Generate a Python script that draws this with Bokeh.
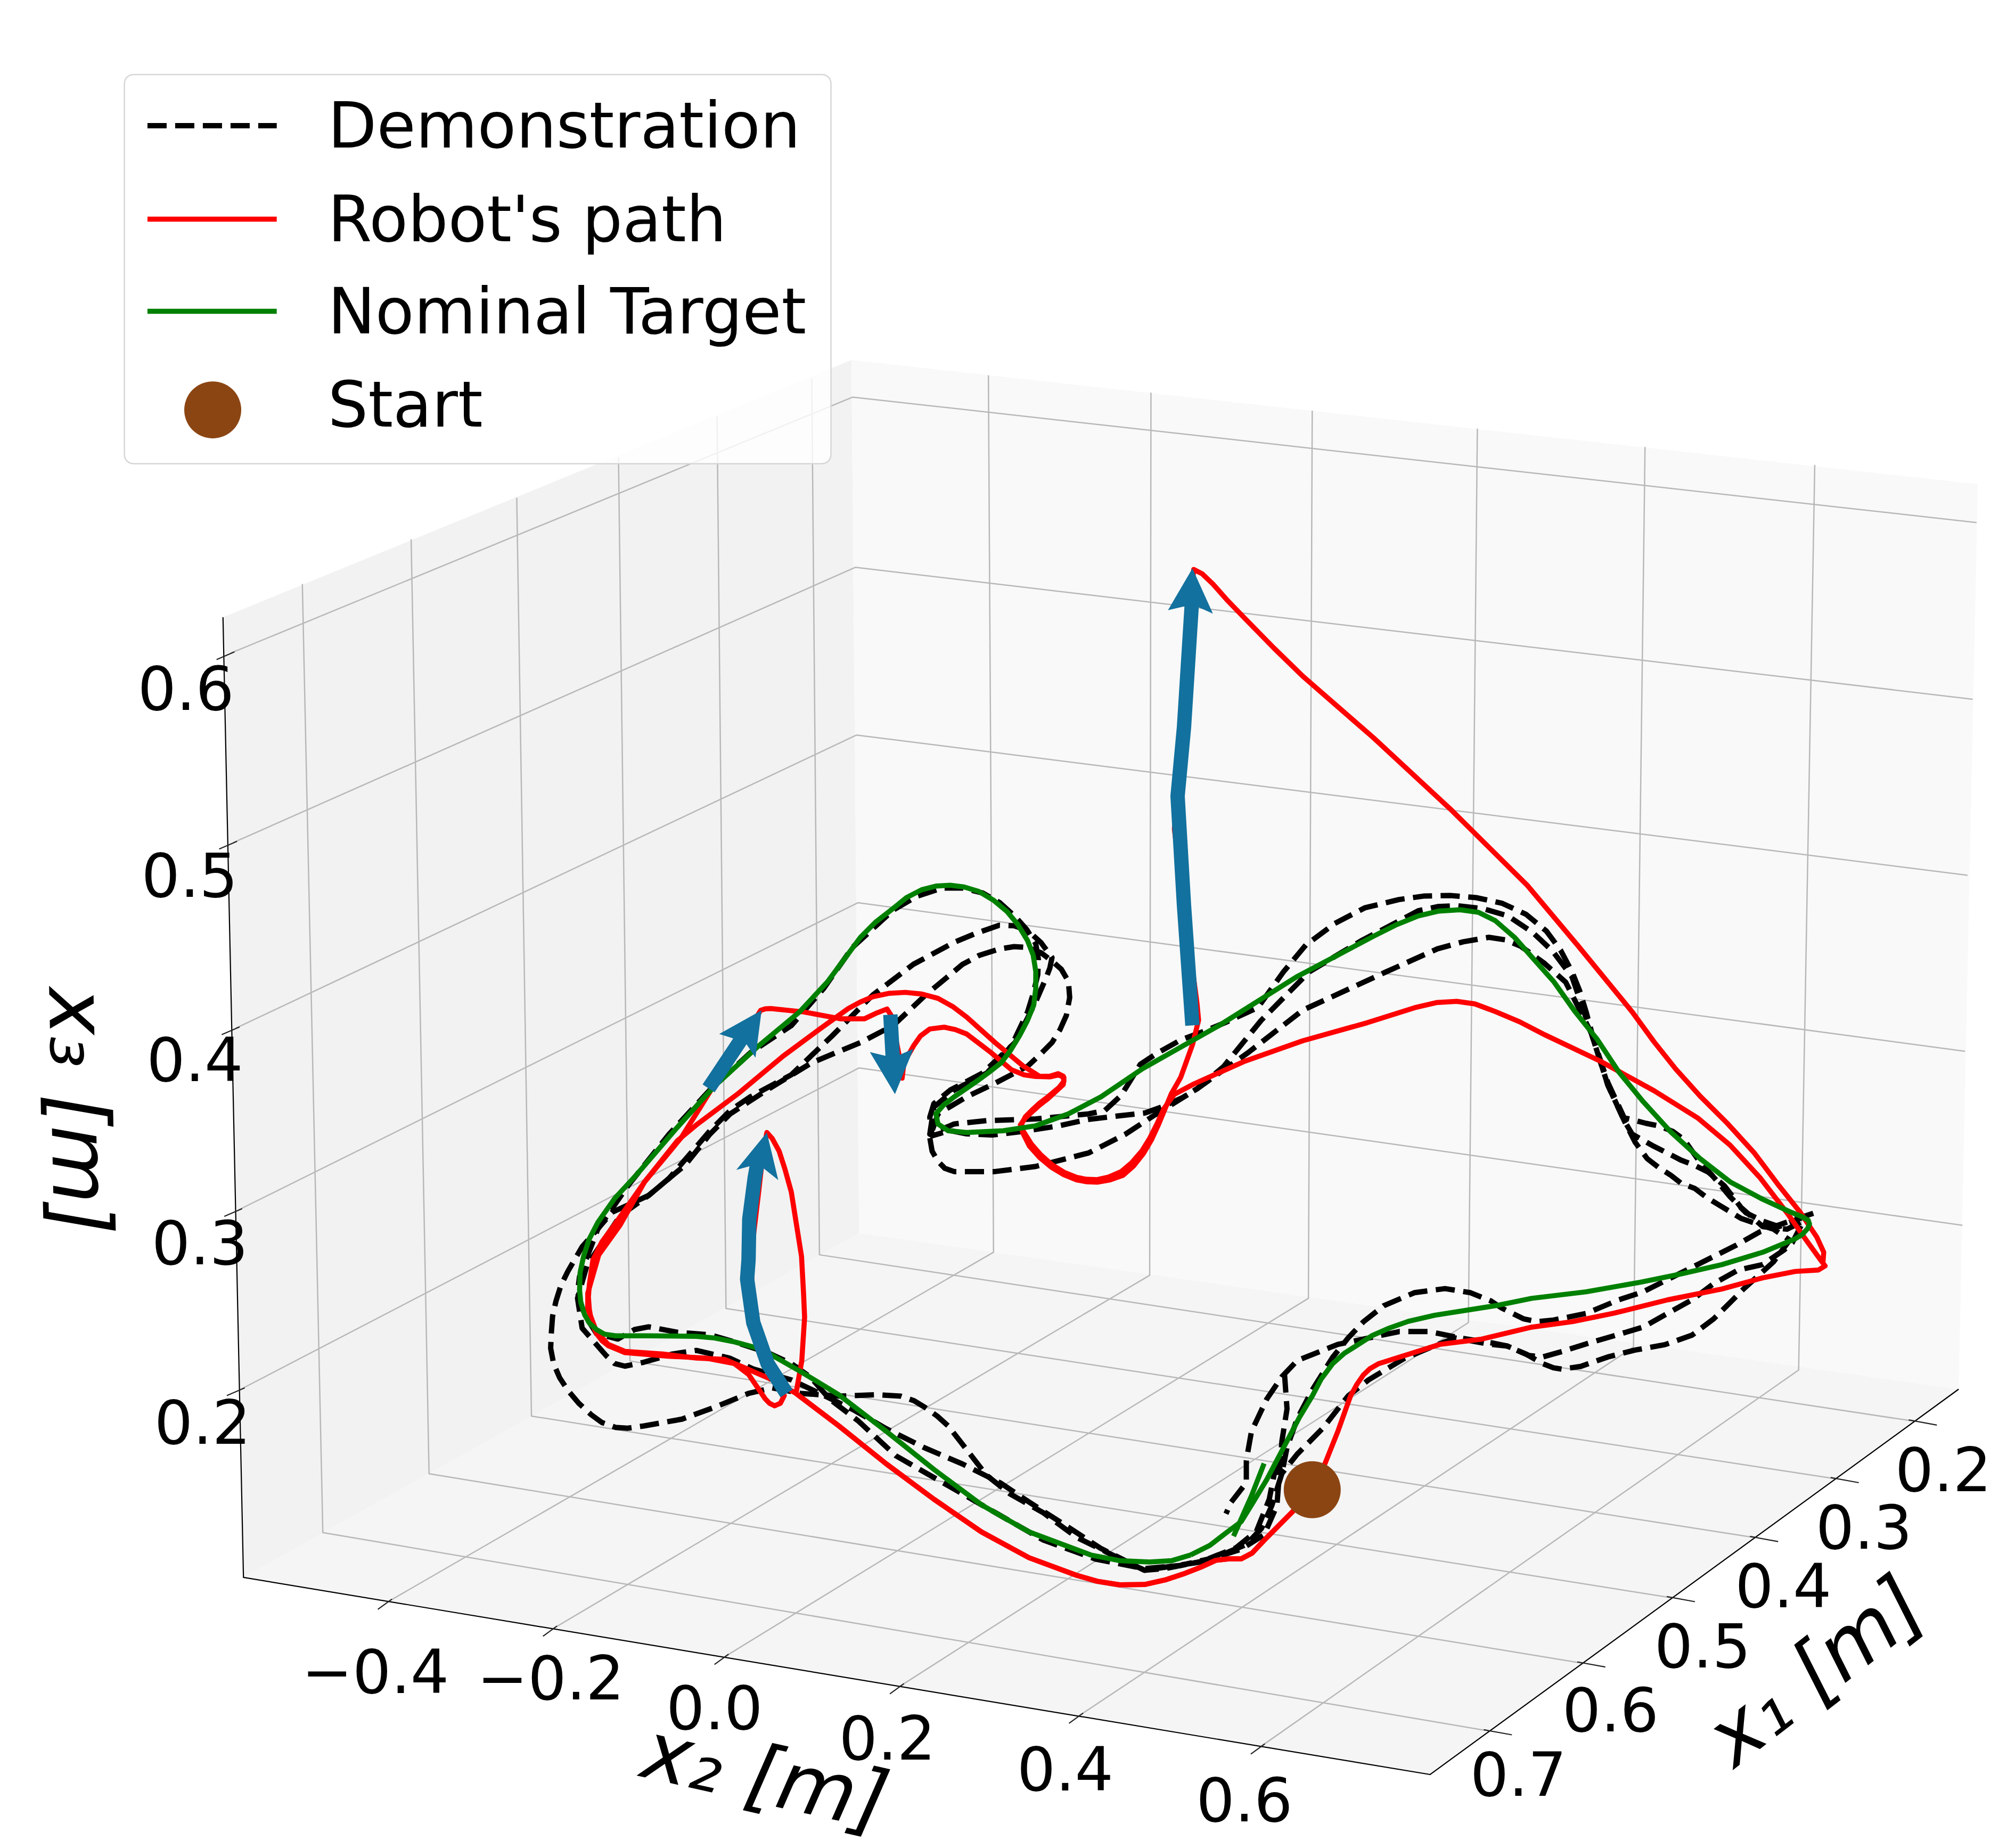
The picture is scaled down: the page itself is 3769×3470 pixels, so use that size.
#!/usr/bin/env python3
import math

from bokeh.core.properties import value
from bokeh.embed import file_html
from bokeh.models import Range1d
from bokeh.plotting import figure
from bokeh.resources import INLINE

SCALE = 3769 / 1568

# box corners of the 3d view
left_bottom = (190, 1232)
front_bottom = (1117, 1386)
right_bottom = (1530, 1085)
back_bottom = (671, 963)
left_top = (174, 482)
back_top = (665, 281)
right_top = (1545, 378)

x1_ticks = ["0.2", "0.3", "0.4", "0.5", "0.6", "0.7"]
x1_edge = [(1495, 1110), (1434, 1155), (1371, 1201), (1306, 1248), (1236, 1299), (1163, 1352)]
x1_back = [(640, 980), (567, 1022), (492, 1063), (415, 1106), (335, 1151), (252, 1197)]
x1_top = [(634, 295.6), (560, 325), (483, 357), (403.5, 388.6), (321, 421), (236, 456)]
x1_label_pos = [(1518, 1147), (1456, 1192), (1393, 1238), (1330, 1285), (1258, 1335), (1186, 1385)]

x2_ticks = ["\u22120.4", "\u22120.2", "0.0", "0.2", "0.4", "0.6"]
x2_edge = [(303, 1251), (432, 1272), (566, 1294), (703, 1317), (843, 1340), (985, 1364)]
x2_back = [(776, 978), (898, 996), (1022, 1014), (1147, 1033), (1276, 1052), (1405, 1070)]
x2_top = [(772, 293), (899, 306.5), (1025, 320.5), (1154, 334.6), (1285, 349), (1417.6, 363)]
x2_label_pos = [(293, 1305), (430, 1310), (558, 1333), (693, 1357), (832, 1381), (972, 1405)]

x3_ticks = ["0.2", "0.3", "0.4", "0.5", "0.6"]
x3_left = [(188, 1085), (186, 945), (184, 803), (182, 658), (180, 510)]
x3_back = [(671, 834), (670, 705), (669, 574), (668, 443), (666, 310)]
x3_right = [(1533, 957), (1535, 821), (1537, 683.5), (1541, 546), (1544, 408)]
x3_label_pos = [(158, 1110), (156, 970), (152, 827), (148, 683), (145, 537)]

nominal_stub = [(987.4, 1143), (977.5, 1168.4), (963.5, 1199.8)]
nominal_target = [
    (930, 1214.5), (915, 1219), (897.9, 1220),
    (875, 1219), (852, 1214.5), (803.8, 1196.5), (766.6, 1175.3), (729.5, 1147.7), (692.3, 1118), (655, 1089.3),
    (625.5, 1071.3), (603.2, 1058.6), (590, 1052.5), (573.5, 1048), (558, 1045), (543.8, 1043.7), (506.6, 1043.3),
    (480.6, 1043.3), (472, 1042), (465.8, 1038.4), (460, 1033), (456.5, 1026.7), (453.5, 1017), (452.6, 1007.7),
    (453, 994), (455.7, 981.3), (460, 968), (466.8, 954.8), (480, 936), (497, 917.6),
    (528.9, 880.5), (557.5, 848.7), (592.5, 816.8), (624.4, 790.3), (646.6, 766.4), (672.1, 731.9),
    (684, 720), (697.6, 709.4), (708, 701), (719.9, 694.8), (731, 692), (742.2, 691.3), (753, 692.7),
    (764.4, 696.1), (776, 703), (786.7, 712), (795, 722), (802.6, 734.6), (807, 746),
    (809, 758.5), (809, 772), (807.4, 785), (802.5, 797), (796.3, 808.9), (789.5, 820), (782, 830),
    (773, 837), (764.4, 843.4), (745.3, 856.6), (737, 863), (731, 869.9), (732.6, 877.8), (740.6, 883.1),
    (754.9, 884.5), (783.5, 883.1), (809, 879.2), (834.5, 869.9),
    (860, 856.6), (892.3, 834.7), (952.4, 800.8), (1012.6, 763), (1072.7, 731.2), (1090, 722.5), (1107.8, 715.3),
    (1124, 711.5), (1140.4, 710.5), (1155, 712.5), (1168, 719), (1183, 732), (1198, 749), (1214, 767),
    (1230.5, 790.3), (1247.5, 811.5), (1264.4, 837),
    (1283.5, 860.3), (1304.8, 883.7), (1328, 904.9), (1351.4, 923), (1377, 936.7), (1398, 946.3),
    (1407, 950), (1412.5, 953), (1413.5, 956), (1412, 959.5), (1408, 964), (1402.4, 967.5), (1377, 978),
    (1345, 987.7), (1313, 995),
    (1281.4, 1001.4), (1239, 1008.9), (1196.5, 1014), (1168.5, 1019.7), (1120.7, 1027.2), (1100, 1032),
    (1085, 1037.3), (1072, 1043), (1061, 1050), (1050, 1057), (1041, 1065), (1032, 1077), (1025.2, 1090),
    (1015, 1107), (1005.3, 1125.5), (989.4, 1155.7), (979, 1173), (969.5, 1188.5),
    (958, 1197), (945, 1207), (930, 1214.5),
]

robot_bottom = [
    (1025, 1163), (1009.3, 1181), (989.4, 1201), (978, 1213), (969.5, 1217.5), (960, 1217.5), (949.6, 1218.7),
    (938, 1224), (925.7, 1228.8), (910, 1234), (893.9, 1237.6), (874.3, 1237.8), (857, 1235), (840.9, 1230.4),
    (803.7, 1216.6), (766.6, 1196.5), (729.5, 1171),
    (692.3, 1143.4), (655.2, 1113.7), (621.7, 1088.3),
]
robot_lap1 = robot_bottom + [
    (626.2, 1062.8), (628.4, 1028.8), (627.6, 1010.5), (626, 981.3), (618, 930.9), (613, 913), (608.5, 899),
    (603, 889), (598.9, 884.5), (596, 900), (592.5, 930.9), (586.2, 984), (588.3, 1016), (597, 1060), (612.5, 1090),
    (609.5, 1096), (605, 1098), (601, 1096), (597.6, 1092.5), (584.6, 1073.4), (573.5, 1065), (551.2, 1060.7),
    (521.5, 1059.2), (488, 1056.4), (475, 1051), (470, 1047), (465.8, 1041.6), (462, 1033), (460.2, 1022.5),
    (459.5, 1013), (460.2, 1003.4), (463, 984), (470, 970),
    (481.1, 954.8), (503.4, 923), (528.9, 891), (544.8, 877.8), (576.6, 854), (611.6, 824.8),
    (640.3, 803.6), (662.6, 787.6), (672, 782.5), (681.7, 778.4), (694, 775.8), (707.1, 775), (720, 776.3),
    (732.6, 779.7), (744, 786), (755, 794.3),
    (777.2, 814.2), (799.4, 832.7), (812.2, 840.7), (820, 840.5), (826.5, 838.5), (830.5, 840.5), (831, 844.5),
    (827, 849.5), (818.5, 856.6), (812, 861.5),
    (805.8, 867.2), (801, 872), (797.9, 877.8), (799, 883), (805.8, 893.8), (813, 902), (821.7, 909.7), (831, 915.5),
    (840.8, 919.5), (848.5, 921), (856.7, 921.3), (866, 919.3), (875.8, 915), (884, 908), (891.8, 899), (898, 889),
    (903.7, 877.8), (909, 866), (917.3, 854.6), (932.4, 846.6), (972.5, 828.7),
    (1017.6, 812.8), (1067.7, 798.8), (1105, 787), (1122, 783), (1137.9, 782), (1152, 784), (1168, 790), (1187, 798),
    (1207, 808.3),
    (1249.6, 828.5), (1292, 851.8), (1326, 873), (1351.4, 894.3), (1374.8, 919.7), (1396, 947.3),
    (1410.9, 968.5), (1422.5, 984.5), (1425.7, 988.7), (1420.4, 991.9), (1402.4, 993), (1377, 998),
    (1345, 1006.7), (1302.6, 1015.2), (1260, 1025.8), (1228.4, 1032.2), (1196.5, 1036.5), (1156.6, 1046),
    (1124.7, 1050), (1100.8, 1057.5), (1077, 1065), (1070, 1069), (1065, 1073.8), (1060, 1081), (1055, 1090),
    (1050, 1104), (1045, 1118),
    (1035, 1143), (1025, 1163),
]
robot_lap2 = robot_bottom + [
    (603.2, 1077.7), (580.9, 1068), (566, 1061.7), (543.8, 1060.7), (517.8, 1057.5), (488, 1055.4),
    (475, 1050), (465.8, 1040), (459, 1022), (459, 1010), (467.6, 980), (484.3, 956.7),
    (503.4, 923), (532, 888.5), (548, 863), (573.5, 822), (594.1, 789), (598, 787.8), (602, 787.6),
    (627.6, 790.3), (656.2, 795.6), (675.3, 795.6), (685, 791), (692.8, 788), (696, 793), (702.4, 824.8),
    (704.6, 842), (706, 830), (713.5, 816.8), (719, 809), (726.2, 803.6), (737.4, 802.2), (746, 804), (755, 807.5),
    (774, 822), (790, 835.4), (800, 839.5), (809, 840.7), (820, 841), (827, 839.5), (831, 841.5), (830.5, 847),
    (818.5, 858), (812, 863),
    (806, 868.5), (801, 873), (797, 878.5), (799, 885), (804, 895), (812, 904), (821, 911.5), (831, 917.5), (841, 921.5),
    (849, 923), (857, 923.3), (867, 921.5), (877, 918), (885.5, 910.5), (893, 901), (899.5, 890), (905, 878),
    (915, 854), (922.2, 841.5), (931.5, 815.7),
    (936.2, 796.7), (934.9, 783), (924.8, 707), (917.3, 647.6), (920, 600), (925, 530),
    (931, 460), (932.4, 444.6), (939, 448), (947.4, 456), (958, 468), (972.5, 483), (995, 506), (1017.6, 528), (1072.7, 576),
    (1132.8, 631.7), (1193, 691.4), (1233, 739), (1275, 790.3), (1292, 813.6), (1309, 834.9),
    (1328, 856), (1349.3, 877.3), (1370.5, 900.6), (1389.6, 926), (1406.6, 947.3), (1419.3, 966.4),
    (1424.6, 978), (1424, 986),
]

demo_1 = [
    (1001.3, 1150.8), (993.4, 1176), (985.4, 1193.7), (973.5, 1206.3), (949.6, 1216.4), (921.7, 1222.7),
    (893.9, 1225.2), (855.7, 1217.7), (815, 1202.9), (777.7, 1181.6), (740.6, 1160.4), (699.7, 1137),
    (670, 1109.5), (647.7, 1092.5), (632.9, 1075.5), (618, 1065), (599.5, 1056.4), (573.5, 1048),
    (555, 1042.6), (529, 1040.5), (506.6, 1036.3), (495.5, 1038.4), (482.5, 1045.8), (465.8, 1041.6),
    (456.5, 1026.7), (451, 1009.8), (452.5, 997.2), (466.8, 960), (490.7, 925.6), (522.5, 885.8),
    (554.4, 851.3), (586.2, 822), (618, 801), (643.5, 771.7), (665.8, 739.9), (697.6, 710.7), (716, 700),
    (735.8, 693.5), (752, 693.5), (767.6, 697.4), (781, 705), (793.1, 716), (802, 726), (809, 737), (811, 749),
    (810.6, 761), (807, 776), (802.6, 790.3),
    (790, 816.8), (770.8, 838), (745.3, 851.3), (729.4, 864.6), (726.2, 885.8), (745.3, 877.8),
    (770.8, 875.2), (809, 873.9), (850.4, 869.9), (862.8, 867.4), (875.8, 855.4), (890.7, 831.2),
    (903.7, 822.6), (922.2, 812.2), (940.8, 805.3), (957.5, 798.4), (982.5, 786.9), (1002.5, 759), (1020, 738),
    (1042.6, 721.2), (1066, 709), (1092.7, 702.5), (1112, 699.8), (1132.8, 699.3), (1153, 701), (1173, 705.3),
    (1192, 714), (1208, 727.2), (1219, 742), (1228, 759), (1234, 774),
    (1239, 790.3), (1245.3, 813.6), (1256, 845.5), (1268.7, 873), (1273, 874), (1285.7, 877.3),
    (1296, 879.4), (1306.9, 883.7), (1315.4, 890), (1326, 904.9), (1340.8, 921.9), (1351.4, 934.6),
    (1364, 947.3), (1377, 953.7), (1389.6, 958), (1417.2, 947.3), (1398, 953.7), (1374.8, 962),
    (1355.7, 972.8), (1336.6, 982.3), (1317.5, 991.9), (1300.5, 1000.4), (1283.5, 1008.9), (1264.4, 1015.2),
    (1239, 1025.8), (1213.5, 1031), (1200.8, 1032.2), (1190, 1030), (1173, 1021.6), (1164.5, 1016),
    (1148.6, 1009.6), (1128.7, 1006.4), (1104.8, 1009.6), (1081, 1019.7), (1065, 1032.3), (1053, 1045),
    (1041, 1060), (1025.2, 1085.3), (1013.3, 1108), (1005.3, 1130.6), (1001.3, 1150.8),
]
demo_2 = [
    (1003.3, 1072.7), (1005.3, 1100.4), (1001.3, 1125.6), (999.3, 1150.8), (997.4, 1176), (987.4, 1198.7),
    (969.5, 1210), (941.6, 1218.9), (909.8, 1225.2), (893.9, 1226.4), (859.5, 1209.2), (833.5, 1192.2),
    (803.7, 1173.1), (781.5, 1158.3), (751.7, 1143.4), (722, 1130.7), (692.3, 1115.9), (666.3, 1101),
    (640.3, 1088.3), (618, 1077.7), (588.3, 1069.2), (569.8, 1060.7), (543.8, 1054.7), (525.2, 1057.5),
    (502.9, 1063.9), (488, 1067), (480, 1065), (473.2, 1058.6), (454.6, 1037.3), (451, 1014), (458.3, 988.5),
    (484.3, 949.5), (506.6, 933.6), (535.3, 909.7), (554.4, 885.8), (570.3, 869.9), (599, 851.3),
    (633.9, 830), (672, 814.2), (697.6, 800.9), (723, 777), (751.7, 753.2), (765, 746), (780.3, 741.2), (792, 739.3),
    (802.6, 739.9), (813, 744), (821.7, 750.5), (829, 757), (834.5, 766.4), (835.5, 779), (832.9, 793), (828, 804),
    (821.7, 814.2), (812, 824), (802.6, 832.7),
    (777.2, 846), (755, 856.6), (732.6, 869.9), (726.2, 888.5), (728, 899), (732.6, 907), (738, 912.5), (745.3, 915),
    (777, 915), (809, 911), (850.4, 900.4), (879, 885.8), (901.8, 870.9), (935.2, 850.2),
    (975, 822), (1017.6, 788.9), (1082.7, 759), (1122.8, 741), (1143, 735.5), (1163, 732), (1176, 734), (1188, 739),
    (1206, 752), (1223, 767), (1243, 806.8), (1256, 847.6), (1268.7, 875.2), (1275, 885.8), (1292, 895.3),
    (1302.6, 900.6), (1313, 906), (1323.9, 910.2), (1334.5, 915.5), (1347, 926.1), (1360, 943),
    (1377, 958), (1396, 960), (1408.7, 953.7), (1400, 970.7), (1393.9, 976), (1377, 987.6),
    (1357.8, 991.9), (1338.7, 1002.5), (1321.7, 1015.2), (1302.6, 1025.8), (1283.5, 1036.5), (1262.3, 1042.8),
    (1241, 1049), (1220, 1055.6), (1205, 1059.8), (1194.4, 1058.7), (1177.4, 1051.3), (1164.5, 1048.7),
    (1140.6, 1045), (1116.8, 1040), (1092.9, 1040), (1069, 1045), (1045, 1050), (1013.3, 1062.6),
    (1001.3, 1075.2), (989.4, 1092.8), (977.5, 1118), (973.5, 1140.7), (973.5, 1158), (961.5, 1173.5),
    (957.6, 1182.3),
]
demo_3 = [
    (997.4, 1140.7), (991.4, 1171), (981.4, 1196), (965.5, 1208.8), (937.7, 1220), (893.9, 1226.4),
    (866.9, 1213.5), (840.9, 1200.7), (815, 1181.6), (788.9, 1166.8), (770.3, 1152), (755.5, 1132.8),
    (740.6, 1113.7), (732, 1106), (722, 1098.9), (714, 1094), (703.5, 1090.4), (684.9, 1089.3), (655.2, 1090.4),
    (625.5, 1088.3),
    (603.2, 1084), (584.6, 1088.3), (558.6, 1098.9), (532.6, 1108.4), (502.9, 1113.7), (490, 1115.5), (480.6, 1114.8),
    (470, 1111), (462, 1105.2), (452, 1096), (443.5, 1086), (437, 1076), (432.3, 1065), (430, 1053), (430.5, 1041.6),
    (431.5, 1028), (434.2, 1016), (438, 1004), (443.5, 992.8),
    (454.6, 973.7), (478, 946.8), (506.6, 933.6), (522.5, 920.3), (554.4, 883.2), (570.3, 867.2),
    (586, 856.6), (618, 839.4), (650, 808.9), (681.7, 777), (713.5, 753), (745.3, 735.9), (762, 729),
    (780.3, 722.6), (792, 723), (802.6, 726.6), (813, 736), (821.7, 747.8), (820, 756), (817, 763.8), (809, 782.3),
    (793, 814),
    (767.6, 838), (742.2, 851.3), (729.4, 861.9), (726.2, 872.5), (728, 887), (742, 883),
    (755, 885.5), (775.5, 886.4), (797.8, 883.8), (825.7, 879.5), (849.8, 874.3), (872, 871.7),
    (894.4, 869.2), (909, 864), (924, 857), (935.2, 850.2), (955.7, 833), (985, 797),
    (1022.6, 759), (1062.7, 735), (1107.8, 711.3), (1123, 708), (1137.9, 707.3), (1158, 709.5), (1178, 715.3),
    (1197, 728), (1213, 743),
    (1228, 763), (1243, 806.8), (1256, 847.6), (1268.7, 875.2), (1277.2, 892), (1286.7, 904.9),
    (1296.3, 912.3), (1304.8, 917.6), (1313, 924), (1323.9, 928.2), (1332.3, 934.6), (1340.8, 939.9),
    (1351.4, 946.3), (1360, 951.6), (1379, 958), (1385.4, 960), (1398, 968.5), (1385.4, 985.5),
    (1362, 1006.7), (1351.4, 1017.4), (1338.7, 1030), (1321.7, 1042.8), (1300.5, 1050.2), (1277, 1054.5),
    (1256, 1059.8), (1234.7, 1067.2), (1220, 1069.3), (1213.5, 1068.3), (1205, 1065), (1192.3, 1057.7),
    (1177.4, 1051.3), (1164.5, 1050), (1136.7, 1045), (1120.7, 1051), (1096.9, 1061), (1069, 1077.7),
    (1053, 1090.3), (1033.2, 1115.5), (1013.3, 1135.7), (1001.3, 1150.8),
]

arrow_shafts = [
    [(931.4, 800.8), (924.8, 707), (919.8, 621.7), (924.8, 568), (931, 470)],
    [(553.4, 850), (586, 801)],
    [(695.4, 792.4), (697.5, 830)],
    [(614.3, 1088.3), (599.5, 1065), (588.3, 1033), (583.5, 999), (584.6, 984), (585.2, 952), (589.4, 920), (593, 900)],
]
arrow_heads = [
    [(931.4, 443.8), (912.3, 476.5), (931.4, 472), (947.4, 479.2)],
    [(594.8, 789), (561.7, 807.5), (582, 814), (590, 826)],
    [(699, 854.5), (679.4, 821.6), (697.6, 826), (713.5, 819)],
    [(598.9, 884.5), (575, 913.7), (592, 909), (607.8, 921.6)],
]

start_point = (1025, 1163.5)

legend_box = (97, 58, 649, 362)
legend_labels = ["Demonstration", "Robot's path", "Nominal Target", "Start"]
legend_rows = [98, 171, 243, 320]
legend_text_y = [98, 171, 243, 316]

RED = "#ff0000"
GREEN = "#008000"
BROWN = "#8b4513"
BLUE = "#12719e"
GRID = "#b8b8b8"
FONT = value("DejaVu Sans")
W = 3761
H = 3462

p = figure(width=W, height=H, x_range=Range1d(0, W / SCALE), y_range=Range1d(H / SCALE, 0),
           output_backend="svg", toolbar_location=None, min_border=0)
p.axis.visible = False
p.grid.visible = False
p.outline_line_color = None


def xs(pts):
    return [a for a, b in pts]


def ys(pts):
    return [b for a, b in pts]


def draw(pts, **kw):
    return p.line(xs(pts), ys(pts), line_join="round", **kw)


# panes
for pane, col in [([left_top, back_top, back_bottom, left_bottom], "#f2f2f2"),
                  ([left_bottom, back_bottom, right_bottom, front_bottom], "#f5f5f5"),
                  ([back_top, right_top, right_bottom, back_bottom], "#f9f9f9")]:
    p.patch(xs(pane), ys(pane), fill_color=col, line_color=None)

# grid
for i in range(6):
    draw([x1_edge[i], x1_back[i], x1_top[i]], line_color=GRID, line_width=2.5)
    draw([x2_edge[i], x2_back[i], x2_top[i]], line_color=GRID, line_width=2.5)
for i in range(5):
    draw([x3_left[i], x3_back[i], x3_right[i]], line_color=GRID, line_width=2.5)

# axis lines and tick marks
draw([left_top, left_bottom, front_bottom, right_bottom], line_color="#000000", line_width=2.2)
for a, b in x1_edge:
    draw([(a - 4, b - 1), (a + 18, b + 3)], line_color="#222222", line_width=2.2)
for a, b in x2_edge:
    draw([(a + 3, b - 2), (a - 8, b + 6)], line_color="#222222", line_width=2.2)
for a, b in x3_left:
    draw([(a + 3, b - 1), (a - 11, b + 5)], line_color="#222222", line_width=2.2)

# tick labels
for labels, pos in [(x1_ticks, x1_label_pos), (x2_ticks, x2_label_pos), (x3_ticks, x3_label_pos)]:
    p.text(xs(pos), ys(pos), text=labels, text_font=FONT, text_font_size="114px", text_color="#000000",
           text_align="center", text_baseline="middle")

# axis titles
for label, a, b, ang in [("x\u2081 [m]", 1418, 1305, 0.66), ("x\u2082 [m]", 598, 1387, -0.22), ("x\u2083 [m]", 62, 868, -1.55)]:
    p.text([a], [b], text=[label], angle=ang, text_font=FONT, text_font_style="italic", text_font_size="152px",
           text_color="#000000", text_align="center", text_baseline="middle")

# data
for demo in [demo_1, demo_2, demo_3]:
    draw(demo, line_color="#000000", line_width=10, line_dash="36 16")
draw(robot_lap1, line_color=RED, line_width=9.5)
draw(robot_lap2, line_color=RED, line_width=9.5)
draw(nominal_target, line_color=GREEN, line_width=9.5)
draw(nominal_stub, line_color=GREEN, line_width=9.5)
for shaft in arrow_shafts:
    draw(shaft, line_color=BLUE, line_width=27)
for head in arrow_heads:
    p.patch(xs(head), ys(head), fill_color=BLUE, line_color=None)
p.scatter([start_point[0]], [start_point[1]], size=107, marker="circle", fill_color=BROWN, line_color=None)

# legend
l, t, r, b = legend_box
rad = 7
box = []
for cx, cy, start in [(r - rad, t + rad, -90), (r - rad, b - rad, 0), (l + rad, b - rad, 90), (l + rad, t + rad, 180)]:
    for step in range(7):
        ang = math.radians(start + 15 * step)
        box.append((cx + rad * math.cos(ang), cy + rad * math.sin(ang)))
p.patch(xs(box), ys(box), fill_color="#ffffff", fill_alpha=0.8, line_color="#d6d6d6", line_width=2.5)
draw([(115, legend_rows[0]), (216, legend_rows[0])], line_color="#000000", line_width=10, line_dash="36 16")
draw([(115, legend_rows[1]), (216, legend_rows[1])], line_color=RED, line_width=9.5)
draw([(115, legend_rows[2]), (216, legend_rows[2])], line_color=GREEN, line_width=9.5)
p.scatter([166], [legend_rows[3]], size=107, marker="circle", fill_color=BROWN, line_color=None)
p.text([256] * 4, legend_text_y, text=legend_labels, text_font=FONT, text_font_size="119px", text_color="#000000",
       text_align="left", text_baseline="middle")

open("out.html", "w").write(file_html(p, INLINE))
